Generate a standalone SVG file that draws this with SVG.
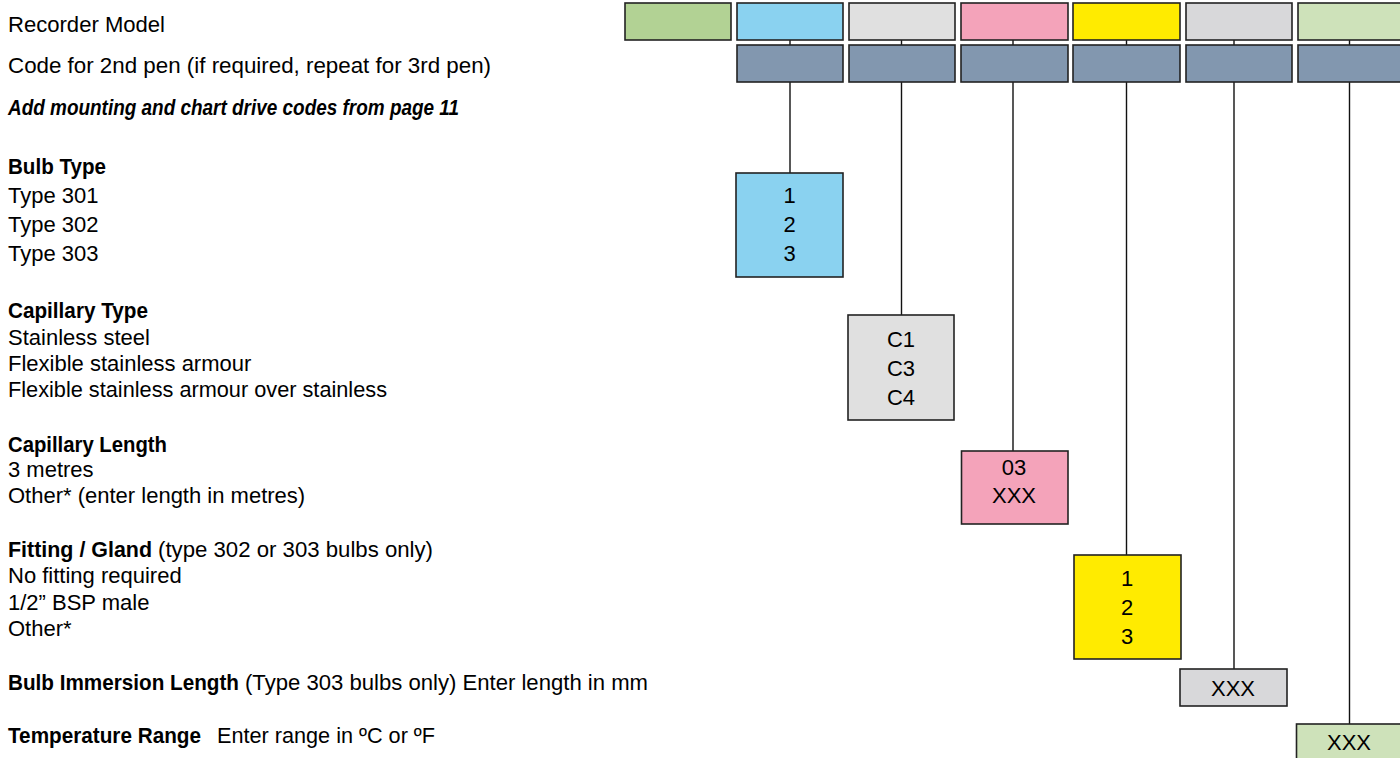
<svg xmlns="http://www.w3.org/2000/svg" width="1400" height="758" viewBox="0 0 1400 758">
<style>
text{font-family:"Liberation Sans",Arial,sans-serif;font-size:22px;fill:#000}
.b{font-weight:bold}
.bi{font-weight:bold;font-style:italic}
.c{text-anchor:middle}
.box{stroke:#222;stroke-width:1.6}
.conn line{stroke:#111;stroke-width:1.4}
</style>
<rect width="1400" height="758" fill="#fff"/>
<g id="labels">
<text x="8" y="32" textLength="157" lengthAdjust="spacingAndGlyphs">Recorder Model</text>
<text x="8" y="73" textLength="483" lengthAdjust="spacingAndGlyphs">Code for 2nd pen (if required, repeat for 3rd pen)</text>
<text x="8" y="115" class="bi" textLength="451" lengthAdjust="spacingAndGlyphs">Add mounting and chart drive codes from  page 11</text>
<text x="8" y="174" class="b" textLength="98" lengthAdjust="spacingAndGlyphs">Bulb Type</text>
<text x="8" y="203">Type 301</text>
<text x="8" y="232">Type 302</text>
<text x="8" y="261">Type 303</text>
<text x="8" y="318" class="b" textLength="140" lengthAdjust="spacingAndGlyphs">Capillary Type</text>
<text x="8" y="345">Stainless steel</text>
<text x="8" y="371">Flexible stainless armour</text>
<text x="8" y="397" textLength="379" lengthAdjust="spacingAndGlyphs">Flexible stainless armour over stainless</text>
<text x="8" y="452" class="b" textLength="159" lengthAdjust="spacingAndGlyphs">Capillary Length</text>
<text x="8" y="477">3 metres</text>
<text x="8" y="503">Other* (enter length in metres)</text>
<text x="8" y="557"><tspan class="b" textLength="144" lengthAdjust="spacingAndGlyphs">Fitting / Gland</tspan><tspan x="158" textLength="275" lengthAdjust="spacingAndGlyphs">(type 302 or 303 bulbs only)</tspan></text>
<text x="8" y="583">No fitting required</text>
<text x="8" y="610">1/2” BSP male</text>
<text x="8" y="636">Other*</text>
<text x="8" y="690"><tspan class="b" textLength="231" lengthAdjust="spacingAndGlyphs">Bulb Immersion Length</tspan><tspan x="245" textLength="403" lengthAdjust="spacingAndGlyphs">(Type 303 bulbs only) Enter length in mm</tspan></text>
<text x="8" y="743"><tspan class="b" textLength="193" lengthAdjust="spacingAndGlyphs">Temperature Range</tspan><tspan x="217" textLength="218" lengthAdjust="spacingAndGlyphs">Enter range in ºC or ºF</tspan></text>
</g>
<g id="connectors" class="conn">
<line x1="790" y1="40" x2="790" y2="173"/>
<line x1="901.5" y1="40" x2="901.5" y2="315"/>
<line x1="1013" y1="40" x2="1013" y2="451"/>
<line x1="1126.5" y1="40" x2="1126.5" y2="555"/>
<line x1="1234" y1="40" x2="1234" y2="669"/>
<line x1="1349.5" y1="40" x2="1349.5" y2="724"/>
</g>
<g id="top-row">
<rect id="model" class="box" x="625" y="3" width="106" height="37" fill="#B2D294"/>
<rect id="h-bulb" class="box" x="737" y="3" width="106" height="37" fill="#8AD2F0"/>
<rect id="h-cap" class="box" x="849" y="3" width="106" height="37" fill="#E0E0E0"/>
<rect id="h-len" class="box" x="961" y="3" width="107" height="37" fill="#F4A3BA"/>
<rect id="h-fit" class="box" x="1073" y="3" width="107" height="37" fill="#FFEB00"/>
<rect id="h-imm" class="box" x="1186" y="3" width="106" height="37" fill="#D8D8DA"/>
<rect id="h-temp" class="box" x="1298" y="3" width="106" height="37" fill="#CEE2BA"/>
</g>
<g id="pen2-row">
<rect class="box" x="737" y="45" width="106" height="37" fill="#8297AF"/>
<rect class="box" x="849" y="45" width="106" height="37" fill="#8297AF"/>
<rect class="box" x="961" y="45" width="107" height="37" fill="#8297AF"/>
<rect class="box" x="1073" y="45" width="107" height="37" fill="#8297AF"/>
<rect class="box" x="1186" y="45" width="106" height="37" fill="#8297AF"/>
<rect class="box" x="1298" y="45" width="106" height="37" fill="#8297AF"/>
</g>
<g id="bulb-type">
<rect class="box" x="736" y="173" width="107" height="104" fill="#8AD2F0"/>
<text x="789.5" y="203" class="c">1</text>
<text x="789.5" y="232" class="c">2</text>
<text x="789.5" y="261" class="c">3</text>
</g>
<g id="capillary-type">
<rect class="box" x="848" y="315" width="106" height="105" fill="#E0E0E0"/>
<text x="901" y="347" class="c">C1</text>
<text x="901" y="376" class="c">C3</text>
<text x="901" y="405" class="c">C4</text>
</g>
<g id="capillary-length">
<rect class="box" x="961.5" y="451" width="106.5" height="73" fill="#F4A3BA"/>
<text x="1014" y="475" class="c">03</text>
<text x="1014" y="503" class="c">XXX</text>
</g>
<g id="fitting">
<rect class="box" x="1074" y="555" width="107" height="104" fill="#FFEB00"/>
<text x="1127" y="586" class="c">1</text>
<text x="1127" y="615" class="c">2</text>
<text x="1127" y="644" class="c">3</text>
</g>
<g id="immersion">
<rect class="box" x="1180" y="669" width="107" height="37" fill="#D8D8DA"/>
<text x="1233" y="696" class="c">XXX</text>
</g>
<g id="temperature">
<rect class="box" x="1296.5" y="724" width="107" height="40" fill="#CEE2BA"/>
<text x="1349" y="750" class="c">XXX</text>
</g>
</svg>
